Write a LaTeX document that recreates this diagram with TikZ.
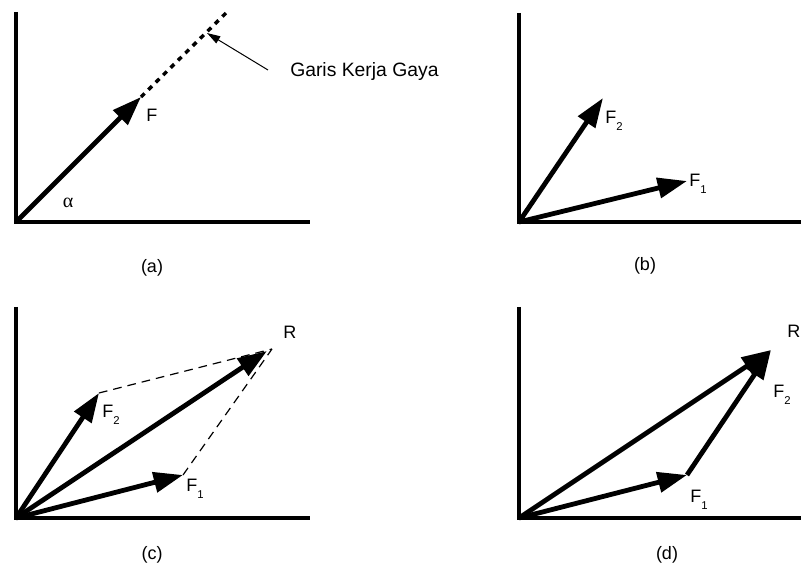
\documentclass[tikz,border=0pt]{standalone}
\usepackage{fontspec}
\setmainfont{Liberation Sans}
\newfontfamily\greekserif{Liberation Serif}
\usetikzlibrary{arrows.meta}
\newcommand\lowsub[1]{\raisebox{-5pt}{\fontsize{8.5}{8.5}\selectfont #1}}
\begin{document}
\begin{tikzpicture}[x=0.75pt,y=-0.75pt,
  axis/.style={line width=2.3pt},
  vec/.style={line width=3.6pt,-{Triangle[length=22pt,width=15pt]}},
  lbl/.style={font=\fontsize{13.5}{16}\selectfont, inner sep=0pt, anchor=base west},
  capt/.style={font=\fontsize{13.5}{16}\selectfont, inner sep=0pt},
  dotline/.style={line width=2.6pt, dash pattern=on 3.8pt off 4pt},
  dashline/.style={line width=0.9pt, dash pattern=on 6.5pt off 4.5pt},
  note/.style={line width=0.75pt, -{Triangle[length=10pt,width=6pt]}}]
\useasboundingbox (0,0) rectangle (801,570);
% ---------- (a) ----------
\coordinate (Oa) at (16,222);
\coordinate (Ya) at (16,12);
\coordinate (Xa) at (310,222);
\coordinate (Fa) at (141,97);
\coordinate (La) at (227,12);
\coordinate (Pa) at (207,33);
\coordinate (Ta) at (268,70);
\draw[axis] (Ya) -- (Oa) -- (Xa);
\draw[vec] (Oa) -- (Fa);
\draw[dotline] (Fa) -- (La);
\draw[note] (Ta) -- (Pa);
\node[lbl, font=\fontsize{14.5}{17}\selectfont] (garis) at (290,77) {Garis Kerja Gaya};
\node[lbl] (labFa) at (146,122) {F};
\node[capt, font=\greekserif\fontsize{15}{17}\selectfont] (alpha) at (68,203) {α};
\node[capt] (capa) at (152,268) {(a)};
% ---------- (b) ----------
\coordinate (Ob) at (519,222);
\coordinate (Yb) at (519,13);
\coordinate (Xb) at (801,222);
\coordinate (F2b) at (603,98);
\coordinate (F1b) at (687,181);
\draw[axis] (Yb) -- (Ob) -- (Xb);
\draw[vec] (Ob) -- (F2b);
\draw[vec] (Ob) -- (F1b);
\node[lbl] (labF2b) at (605,124) {F\lowsub{2}};
\node[lbl] (labF1b) at (689,187) {F\lowsub{1}};
\node[capt] (capb) at (645,266) {(b)};
% ---------- (c) ----------
\coordinate (Oc) at (16,518);
\coordinate (Yc) at (16,307);
\coordinate (Xc) at (310,518);
\coordinate (F2c) at (99,393);
\coordinate (F1c) at (183,475);
\coordinate (Rc) at (267,351);
\coordinate (Dc) at (272,349);
\draw[dashline] (F2c) -- (Dc);
\draw[dashline] (F1c) -- (Dc);
\draw[axis] (Yc) -- (Oc) -- (Xc);
\draw[vec] (Oc) -- (F2c);
\draw[vec] (Oc) -- (F1c);
\draw[vec] (Oc) -- (Rc);
\node[lbl] (labF2c) at (102,418) {F\lowsub{2}};
\node[lbl] (labF1c) at (186,492) {F\lowsub{1}};
\node[lbl] (labRc) at (283,339) {R};
\node[capt] (capc) at (152,555) {(c)};
% ---------- (d) ----------
\coordinate (Od) at (519,518);
\coordinate (Yd) at (519,307);
\coordinate (Xd) at (801,518);
\coordinate (F1d) at (687,475);
\coordinate (Rd) at (771,350);
\draw[axis] (Yd) -- (Od) -- (Xd);
\draw[vec] (Od) -- (F1d);
\draw[vec] (F1d) -- (Rd);
\draw[vec] (Od) -- (Rd);
\node[lbl] (labRd) at (787,338) {R};
\node[lbl] (labF2d) at (773,398) {F\lowsub{2}};
\node[lbl] (labF1d) at (690,503) {F\lowsub{1}};
\node[capt] (capd) at (667,555) {(d)};
\end{tikzpicture}
\end{document}
